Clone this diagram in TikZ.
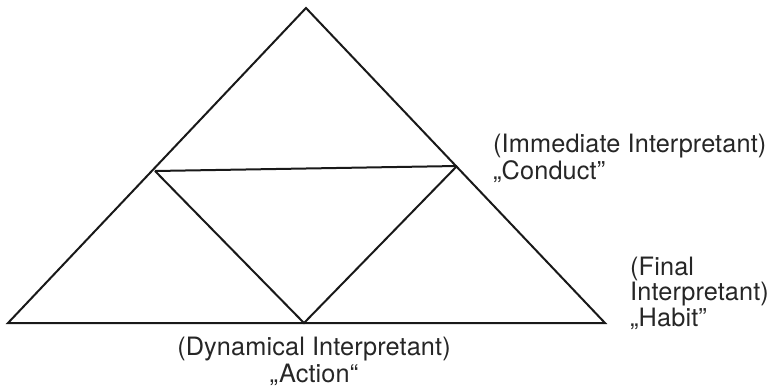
\documentclass[tikz,border=0pt]{standalone}
\usepackage{fontspec}
\setmainfont{TeX Gyre Heros}[LetterSpace=0.5]
\begin{document}
\begin{tikzpicture}[x=1pt,y=-1pt,
  edge/.style={line width=2pt, line join=miter, black!90},
  lbl/.style={inner sep=0pt, anchor=base west, font=\fontsize{25.3}{27}\selectfont, text=black!85}]
\useasboundingbox (0,0) rectangle (769,386);
\coordinate (top) at (306,8);
\coordinate (bl) at (8,323);
\coordinate (br) at (605,323);
\coordinate (bm) at (304,323);
\coordinate (lm) at (155,171);
\coordinate (rm) at (457,166);
\draw[edge] (bl) -- (top) -- (br) -- cycle;
\draw[edge] (lm) -- (rm);
\draw[edge] (lm) -- (bm) -- (rm);
\node[lbl] (imm1) at (493,152) {(Immediate Interpretant)};
\node[lbl] (imm2) at (493,179) {„Conduct”};
\node[lbl] (fin1) at (630,275) {(Final};
\node[lbl] (fin2) at (630,300) {Interpretant)};
\node[lbl] (fin3) at (630,326) {„Habit”};
\node[lbl, anchor=base] (dyn1) at (314,355) {(Dynamical Interpretant)};
\node[lbl, anchor=base] (dyn2) at (314,382) {„Action“};
\end{tikzpicture}
\end{document}
